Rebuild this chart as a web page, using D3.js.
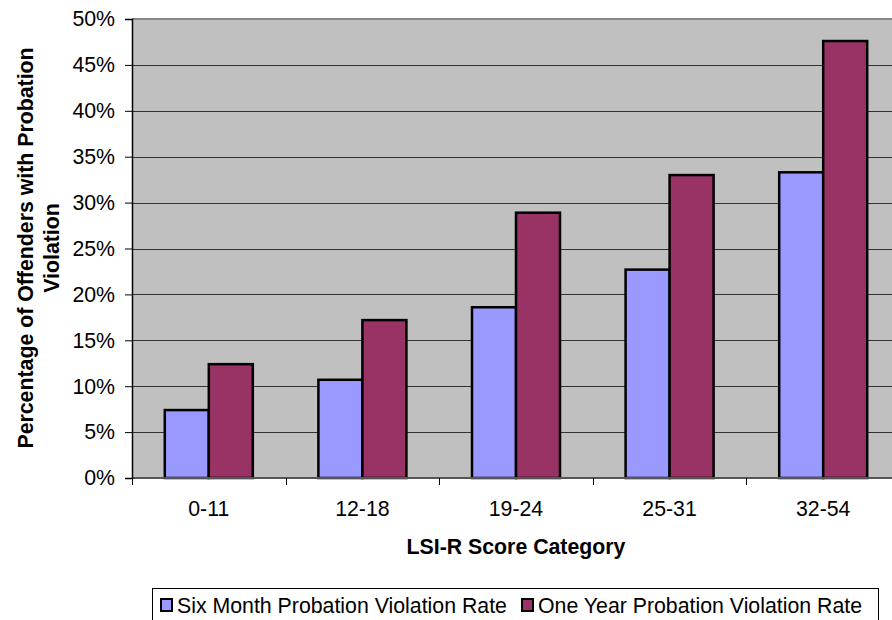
<!DOCTYPE html>
<html>
<head>
<meta charset="utf-8">
<script src="https://cdn.jsdelivr.net/npm/d3@7/dist/d3.min.js"></script>
<style>
  html, body { margin: 0; padding: 0; background: #fff; }
  svg { display: block; font-family: "Liberation Sans", Arial, sans-serif; }
</style>
</head>
<body>
<svg id="chart" width="892" height="620"></svg>
<script>
// LSI-R score categories and violation rates (%)
const categories = ["0-11", "12-18", "19-24", "25-31", "32-54"];
const sixMonth = [7.4, 10.7, 18.6, 22.7, 33.3];
const oneYear = [12.4, 17.2, 28.9, 33.0, 47.6];
const seriesNames = ["Six Month Probation Violation Rate", "One Year Probation Violation Rate"];
const seriesColors = ["#9999FF", "#993366"];
const yTicks = [0, 5, 10, 15, 20, 25, 30, 35, 40, 45, 50];

const svg = d3.select("#chart");
const plot = { left: 132, top: 19, right: 900, bottom: 478 };
const FONT = 21.3;

const x0 = d3.scaleBand().domain(categories).range([plot.left, plot.right]).paddingInner(0).paddingOuter(0);
const groupPad = 0.2135; // gap on each side of a bar pair, as a share of the category
const x1 = d3.scaleBand().domain([0, 1])
  .range([x0.bandwidth() * groupPad, x0.bandwidth() * (1 - groupPad)]).padding(0);
const y = d3.scaleLinear().domain([0, 50]).range([plot.bottom, plot.top]);

// plot background
svg.append("rect")
  .attr("x", plot.left).attr("y", plot.top)
  .attr("width", plot.right - plot.left).attr("height", plot.bottom - plot.top)
  .attr("fill", "#C0C0C0");

// gridlines
svg.append("g").selectAll("line").data(yTicks.filter(t => t > 0 && t < 50)).join("line")
  .attr("x1", plot.left).attr("x2", plot.right)
  .attr("y1", d => Math.round(y(d)) + 0.5).attr("y2", d => Math.round(y(d)) + 0.5)
  .attr("stroke", "#333").attr("stroke-width", 1);

// top border of plot area
svg.append("line")
  .attr("x1", plot.left).attr("x2", plot.right)
  .attr("y1", plot.top).attr("y2", plot.top)
  .attr("stroke", "#888").attr("stroke-width", 2);

// bars
const data = categories.map((c, i) => ({ c, vals: [sixMonth[i], oneYear[i]] }));
const groups = svg.append("g").selectAll("g").data(data).join("g")
  .attr("transform", d => `translate(${x0(d.c)},0)`);
groups.selectAll("rect").data(d => d.vals.map((v, k) => ({ v, k }))).join("rect")
  .attr("x", d => x1(d.k))
  .attr("y", d => y(d.v))
  .attr("width", x1.bandwidth())
  .attr("height", d => y(0) - y(d.v))
  .attr("fill", d => seriesColors[d.k])
  .attr("stroke", "#000").attr("stroke-width", 2.5);

// bottom axis
const xAxis = svg.append("g").attr("transform", `translate(0,${plot.bottom})`);
xAxis.append("line").attr("x1", plot.left).attr("x2", plot.right)
  .attr("y1", 0).attr("y2", 0).attr("stroke", "#555").attr("stroke-width", 2);
const xTickPos = categories.map(c => x0(c)).concat([plot.right]);
xAxis.selectAll("line.tick").data(xTickPos).join("line").attr("class", "tick")
  .attr("x1", d => Math.round(d) + 0.5).attr("x2", d => Math.round(d) + 0.5)
  .attr("y1", 0).attr("y2", 7).attr("stroke", "#000");
xAxis.selectAll("text").data(categories).join("text")
  .attr("x", d => x0(d) + x0.bandwidth() / 2)
  .attr("y", 38)
  .attr("text-anchor", "middle")
  .attr("font-size", FONT).attr("fill", "#000")
  .text(d => d);

// left axis
const yAxis = d3.axisLeft(y).tickValues(yTicks).tickFormat(d => d + "%").tickSize(7).tickPadding(4);
const ya = svg.append("g").attr("transform", `translate(${plot.left},0)`).call(yAxis);
ya.select(".domain").attr("stroke", "#000").attr("stroke-width", 1.5);
ya.selectAll(".tick line").attr("stroke", "#000");
ya.selectAll(".tick text").attr("font-size", FONT).attr("fill", "#000")
  .attr("font-family", "Liberation Sans, Arial, sans-serif").attr("x", -17);

// axis titles
const yTitle = svg.append("text")
  .attr("transform", "translate(33,248) rotate(-90)")
  .attr("text-anchor", "middle")
  .attr("font-size", FONT).attr("font-weight", "bold").attr("fill", "#000");
yTitle.append("tspan").attr("x", 0).attr("y", 0).text("Percentage of Offenders with Probation");
yTitle.append("tspan").attr("x", 0).attr("y", 26).text("Violation");

svg.append("text")
  .attr("x", 516).attr("y", 554)
  .attr("text-anchor", "middle")
  .attr("font-size", FONT).attr("font-weight", "bold").attr("fill", "#000")
  .text("LSI-R Score Category");

// legend
const legend = svg.append("g");
legend.append("rect")
  .attr("x", 152.5).attr("y", 588.5).attr("width", 726).attr("height", 40)
  .attr("fill", "#fff").attr("stroke", "#000").attr("stroke-width", 1);
const legendX = [160, 521];
seriesNames.forEach((name, i) => {
  legend.append("rect")
    .attr("x", legendX[i] + 1).attr("y", 599)
    .attr("width", 11).attr("height", 12)
    .attr("fill", seriesColors[i]).attr("stroke", "#000").attr("stroke-width", 2);
  legend.append("text")
    .attr("x", legendX[i] + 17).attr("y", 613)
    .attr("font-size", FONT).attr("fill", "#000")
    .text(name);
});
</script>
</body>
</html>
